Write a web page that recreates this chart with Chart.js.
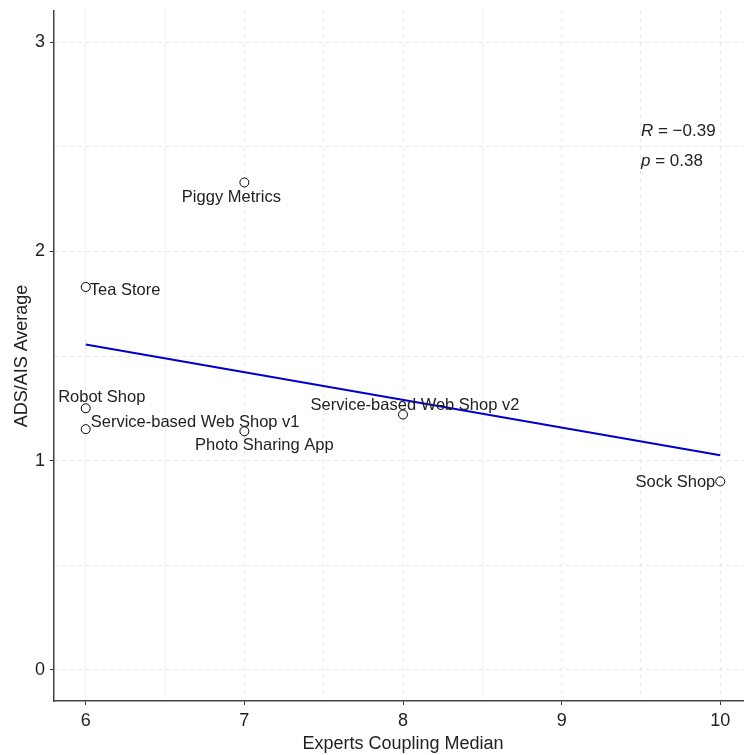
<!DOCTYPE html>
<html>
<head>
<meta charset="utf-8">
<script src="https://cdn.jsdelivr.net/npm/chart.js@4/dist/chart.umd.min.js"></script>
<style>
  html, body { margin: 0; padding: 0; background: #fff; overflow: hidden; }
  #wrap { width: 752px; height: 755px; }
  canvas { display: block; }
</style>
</head>
<body>
<div id="wrap"><canvas id="corrChart"></canvas></div>
<script>
// systems, coupling median (x) vs ADS/AIS average (y)
const systems = ['Piggy Metrics', 'Tea Store', 'Robot Shop', 'Service-based Web Shop v1',
                 'Photo Sharing App', 'Service-based Web Shop v2', 'Sock Shop'];
const couplingMedian = [7, 6, 6, 6, 7, 8, 10];
const adsAisAverage = [2.33, 1.83, 1.25, 1.15, 1.14, 1.22, 0.90];

// fitted regression line, end points
const fitX = [6, 10];
const fitY = [1.555, 1.025];

const xTickLabels = [6, 7, 8, 9, 10];
const yTickLabels = [0, 1, 2, 3];
const corrR = '\u22120.39';
const corrP = '0.38';

// label placement relative to each point (px)
const labelOffsets = [
    { dx: -13, dy: 15, align: 'center' },
    { dx: 4, dy: 3, align: 'left' },
    { dx: 16, dy: -11, align: 'center' },
    { dx: 5, dy: -7, align: 'left' },
    { dx: 20, dy: 14, align: 'center' },
    { dx: 12, dy: -9, align: 'center' },
    { dx: -5, dy: 1, align: 'right' }
];

const FONT = '"Liberation Sans", Arial, sans-serif';
const LABEL_SIZE = 16.5;
const gridGray = '#e8e8e8';
const textCol = '#222';

const withMinor = majors => {
    const out = [];
    majors.forEach((v, i) => {
        out.push(v);
        if (i < majors.length - 1) out.push((v + majors[i + 1]) / 2);
    });
    return out;
};

const drawMixed = (ctx, x, y, italicPart, rest) => {
    ctx.font = 'italic 17px ' + FONT;
    ctx.fillText(italicPart, x, y);
    const w = ctx.measureText(italicPart).width;
    ctx.font = '17px ' + FONT;
    ctx.fillText(rest, x + w, y);
};

const pointLabels = {
    id: 'pointLabels',
    afterDatasetsDraw(chart) {
        const ctx = chart.ctx;
        const meta = chart.getDatasetMeta(1);
        ctx.save();
        ctx.font = LABEL_SIZE + 'px ' + FONT;
        ctx.fillStyle = textCol;
        ctx.textBaseline = 'middle';
        meta.data.forEach((pt, i) => {
            const o = labelOffsets[i];
            ctx.textAlign = o.align;
            ctx.fillText(systems[i], pt.x + o.dx, pt.y + o.dy);
        });

        // correlation annotation, left aligned at x = 9.5
        const xs = chart.scales.x, ys = chart.scales.y;
        const lx = xs.getPixelForValue(9.5);
        ctx.textAlign = 'left';
        drawMixed(ctx, lx, ys.getPixelForValue(2.575), 'R', ' = ' + corrR);
        drawMixed(ctx, lx, ys.getPixelForValue(2.432), 'p', ' = ' + corrP);
        ctx.restore();
    }
};

const isMajor = (list, v) => list.some(t => Math.abs(t - v) < 1e-9);

const noPad = axis => {
    axis.paddingLeft = 0;
    axis.paddingRight = 0;
    axis.paddingTop = 0;
    axis.paddingBottom = 0;
};

new Chart(document.getElementById('corrChart'), {
    type: 'scatter',
    data: {
        datasets: [{
            type: 'line',
            data: fitX.map((x, i) => ({ x: x, y: fitY[i] })),
            borderColor: '#0000CD',
            borderWidth: 2,
            pointRadius: 0,
            fill: false
        }, {
            data: couplingMedian.map((x, i) => ({ x: x, y: adsAisAverage[i] })),
            pointRadius: 4.5,
            pointBackgroundColor: '#fff',
            pointBorderColor: '#000',
            pointBorderWidth: 1
        }]
    },
    options: {
        responsive: true,
        maintainAspectRatio: false,
        animation: false,
        layout: { autoPadding: false, padding: { top: 11, right: 0, left: 0, bottom: 0 } },
        plugins: {
            legend: { display: false },
            tooltip: { enabled: false }
        },
        scales: {
            x: {
                type: 'linear',
                min: 5.8,
                max: 10.2,
                afterBuildTicks: axis => { axis.ticks = withMinor(xTickLabels).map(v => ({ value: v })); },
                afterFit: axis => { axis.height = 54; noPad(axis); },
                ticks: {
                    color: textCol,
                    font: { family: FONT, size: 18 },
                    padding: 5,
                    maxRotation: 0,
                    callback: v => isMajor(xTickLabels, v) ? String(v) : ''
                },
                grid: {
                    color: gridGray,
                    lineWidth: 1,
                    tickLength: 4,
                    tickColor: c => isMajor(xTickLabels, c.tick.value) ? '#333' : 'rgba(0,0,0,0)',
                    tickBorderDash: []
                },
                border: { display: true, color: '#444', width: 1.5, dash: [4, 4] },
                title: {
                    display: true,
                    text: 'Experts Coupling Median',
                    color: textCol,
                    font: { family: FONT, size: 18 },
                    padding: { top: 1, bottom: 0 }
                }
            },
            y: {
                type: 'linear',
                min: -0.15,
                max: 3.15,
                afterBuildTicks: axis => { axis.ticks = withMinor(yTickLabels).map(v => ({ value: v })); },
                afterFit: axis => { axis.width = 54; noPad(axis); },
                ticks: {
                    color: textCol,
                    font: { family: FONT, size: 18 },
                    padding: 5,
                    callback: v => isMajor(yTickLabels, v) ? String(v) : ''
                },
                grid: {
                    color: gridGray,
                    lineWidth: 1,
                    tickLength: 4,
                    tickColor: c => isMajor(yTickLabels, c.tick.value) ? '#333' : 'rgba(0,0,0,0)',
                    tickBorderDash: []
                },
                border: { display: true, color: '#444', width: 1.5, dash: [4, 4] },
                title: {
                    display: true,
                    text: 'ADS/AIS Average',
                    color: textCol,
                    font: { family: FONT, size: 18 },
                    padding: { top: 11, bottom: 0 }
                }
            }
        }
    },
    plugins: [pointLabels]
});
</script>
</body>
</html>
